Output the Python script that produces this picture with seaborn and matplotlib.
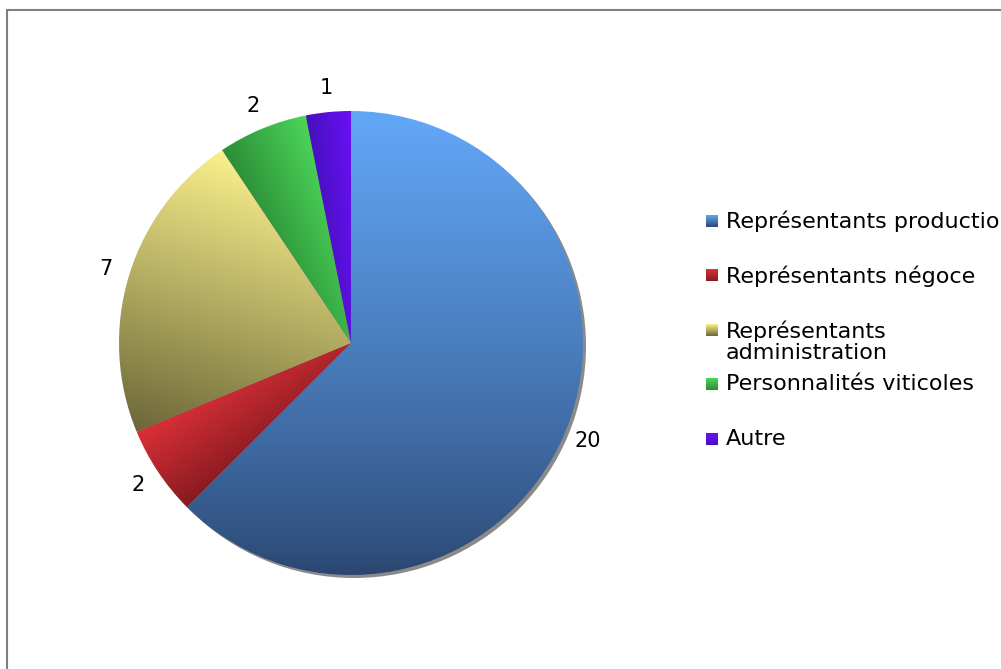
import numpy as np
import matplotlib.pyplot as plt
import seaborn as sns
from matplotlib.patches import Circle

# Données du graphique
categories = ["Représentants production", "Représentants négoce",
              "Représentants\nadministration", "Personnalités viticoles", "Autre"]
values = [20, 2, 7, 2, 1]
top_colors = ["#62a7f7", "#dc3038", "#faf08c", "#4cd65a", "#6a10f8"]
bottom_colors = ["#2a4670", "#861a20", "#6c6838", "#2c8c36", "#4610bc"]

W, H = 1001, 669
sns.set_theme(style="white")
plt.rcParams['font.family'] = ['DejaVu Sans']

fig = plt.figure(figsize=(W / 100, H / 100), dpi=100)
ax = fig.add_axes([0, 0, 1, 1])

# centre et rayon du camembert (en pixels, y vers le haut)
cx, cy, r = 351, H - 343, 232

# ombre
ax.add_patch(Circle((cx + 3, cy - 3), r, color='#8a8a8a', zorder=1, lw=0))

wedges, texts = ax.pie(values, startangle=90, counterclock=False,
                       center=(cx, cy), radius=r,
                       labels=[str(v) for v in values], labeldistance=1.105,
                       textprops=dict(fontsize=15, color='black'),
                       wedgeprops=dict(linewidth=0))
for t in texts:
    t.set_ha('center')
    t.set_va('center')


def gradient_image(extent, t, top, bot, clip=None):
    cmap = sns.blend_palette([bot, top], as_cmap=True)
    im = ax.imshow(cmap(np.clip(t, 0, 1)), extent=extent, origin='lower',
                   aspect='auto', zorder=2, interpolation='bilinear')
    if clip is not None:
        im.set_clip_path(clip)
    return im


# dégradé : le long de la corde de chaque part (clair en haut),
# vertical pour la grande part
for w, top, bot in zip(wedges, top_colors, bottom_colors):
    ext = w.get_path().get_extents()
    xs = np.linspace(ext.x0, ext.x1, 300)
    ys = np.linspace(ext.y0, ext.y1, 300)
    X, Y = np.meshgrid(xs, ys)
    if w.theta2 - w.theta1 > 180:
        t = ((Y - ext.y0) / (ext.y1 - ext.y0)) ** 0.8
    else:
        a1, a2 = np.deg2rad([w.theta1, w.theta2])
        p1 = np.array([cx + r * np.cos(a1), cy + r * np.sin(a1)])
        p2 = np.array([cx + r * np.cos(a2), cy + r * np.sin(a2)])
        lo, hi = (p1, p2) if p1[1] < p2[1] else (p2, p1)
        d = hi - lo
        t = ((X - lo[0]) * d[0] + (Y - lo[1]) * d[1]) / (d @ d)
    gradient_image((ext.x0, ext.x1, ext.y0, ext.y1), t, top, bot, clip=w)
    w.set_facecolor('none')

# légende dessinée à la main (les entrées ont un pas fixe)
leg_x, leg_y0, leg_step, box = 706, 221, 54.5, 12
vgrad = np.linspace(0, 1, 64).reshape(-1, 1)
for i, (lab, top, bot) in enumerate(zip(categories, top_colors, bottom_colors)):
    yc = H - (leg_y0 + i * leg_step)
    gradient_image((leg_x, leg_x + box, yc - box / 2, yc + box / 2), vgrad, top, bot)
    ax.text(leg_x + 20, yc + 10, lab, fontsize=16, va='top', ha='left',
            linespacing=1.1, color='black')

# cadre
ax.plot([7, 7, W], [0, H - 10, H - 10], color='#808080', lw=1.5,
        solid_joinstyle='miter')

ax.set_xlim(0, W)
ax.set_ylim(0, H)
ax.axis('off')

plt.savefig('out.png', dpi=100)
